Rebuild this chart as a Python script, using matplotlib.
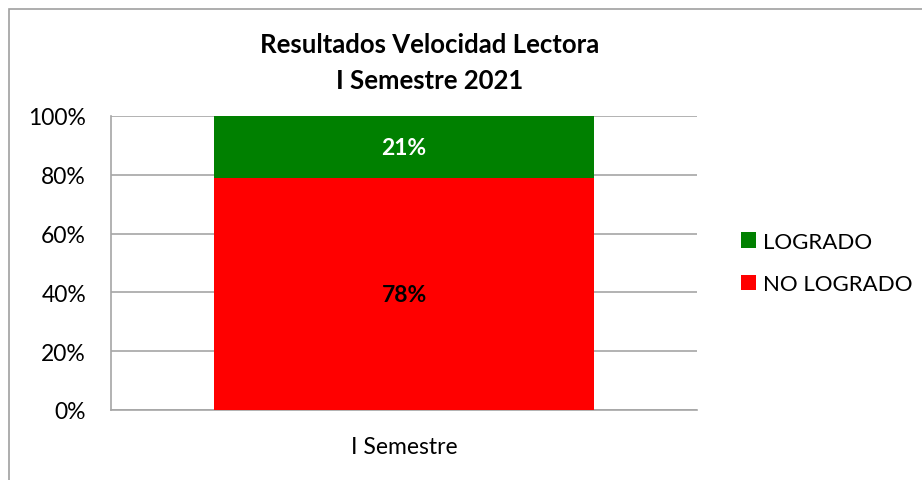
import matplotlib.pyplot as plt
from matplotlib.patches import Rectangle

plt.rcParams['font.family'] = ['Lato', 'DejaVu Sans']

categories = ['I Semestre']
no_logrado = [78]
logrado = [21]
series_names = ['NO LOGRADO', 'LOGRADO']
colors = ['#ff0000', '#008000']

# normalizar a 100% (barra apilada al 100%)
total = [a + b for a, b in zip(no_logrado, logrado)]
nl_pct = [a / t * 100 for a, t in zip(no_logrado, total)]
lg_pct = [b / t * 100 for b, t in zip(logrado, total)]

fig = plt.figure(figsize=(9.22, 4.81), dpi=100)
ax = fig.add_axes([111 / 922, 1 - 411 / 481, 586 / 922, 294 / 481])

# borde del gráfico
fig.patches.append(Rectangle((9 / 922, -0.1), 1.2, 1 - 10 / 481 + 0.1, transform=fig.transFigure,
                             fill=False, edgecolor='#a0a0a0', linewidth=1.2))

x = list(range(len(categories)))
b1 = ax.bar(x, nl_pct, width=0.648, color=colors[0], label=series_names[0], zorder=3)
b2 = ax.bar(x, lg_pct, bottom=nl_pct, width=0.648, color=colors[1], label=series_names[1], zorder=3)

for i in x:
    ax.text(i, nl_pct[i] / 2, f'{no_logrado[i]}%', ha='center', va='center',
            fontsize=16.5, fontweight='bold', color='black', zorder=4)
    ax.text(i, nl_pct[i] + lg_pct[i] / 2, f'{logrado[i]}%', ha='center', va='center',
            fontsize=16.5, fontweight='bold', color='white', zorder=4)

ax.set_xlim(-0.5, 0.5)
ax.set_ylim(0, 100)
ax.set_yticks(range(0, 101, 20))
ax.set_yticklabels([f'{v}%' for v in range(0, 101, 20)])
ax.set_xticks(x)
ax.set_xticklabels(categories)
ax.tick_params(axis='both', length=0, labelsize=16.5, colors='black')
ax.tick_params(axis='y', pad=18)
ax.tick_params(axis='x', pad=19)
ax.yaxis.grid(True, color='#a6a6a6', linewidth=1.2, zorder=0)
for s in ['top', 'right']:
    ax.spines[s].set_visible(False)
for s in ['left', 'bottom']:
    ax.spines[s].set_color('#a6a6a6')
    ax.spines[s].set_linewidth(1.2)

fig.text(430 / 922, 1 - 63 / 481, 'Resultados Velocidad Lectora\nI Semestre 2021', ha='center', va='center',
         fontsize=18.5, fontweight='bold', linespacing=1.6)

handles = [b2, b1]
ax.legend(handles, [series_names[1], series_names[0]], loc='center left', bbox_to_anchor=(725 / 922, 1 - 264 / 481),
          bbox_transform=fig.transFigure, frameon=False, fontsize=16, handlelength=0.68, handleheight=0.68,
          handletextpad=0.35, labelspacing=1.0, borderpad=0.2)

fig.savefig('out.png', dpi=100)
